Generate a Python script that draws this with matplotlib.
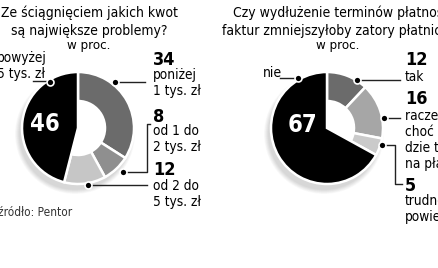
import matplotlib
matplotlib.use("Agg")
import matplotlib.pyplot as plt
from matplotlib.patches import Circle
from matplotlib import font_manager as fm

# czcionka waska (jak w oryginale)
names = {f.name for f in fm.fontManager.ttflist}
plt.rcParams['font.family'] = ['DejaVu Sans']
plt.rcParams['font.stretch'] = 'condensed'
if 'Liberation Sans Narrow' in names:
    plt.rcParams['font.family'] = ['Liberation Sans Narrow', 'DejaVu Sans']

# dane
left_values = [34, 8, 12, 46]
left_colors = ['#6b6b6b', '#8f8f8f', '#c6c6c6', '#000000']
right_values = [12, 16, 5, 67]
right_colors = ['#6b6b6b', '#a6a6a6', '#cacaca', '#000000']

W, H = 439, 268


def Y(y):
    # piksele od gory -> wspolrzedne osi
    return H - y


fig = plt.figure(figsize=(W / 100, H / 100), dpi=100)
ax = fig.add_axes([0, 0, 1, 1])


def donut(cx, cy, values, colors):
    # cien pod wykresem
    for i in range(8):
        ax.add_patch(Circle((cx - 3, Y(cy) - 6), 60 - i * 0.6, color='#000000',
                            alpha=0.018, lw=0, zorder=1))
    ax.add_patch(Circle((cx, Y(cy)), 30, color='white', lw=0, zorder=1.5))
    wedges, _ = ax.pie(values, colors=colors, startangle=90, counterclock=False,
                       center=(cx, Y(cy)), radius=56, frame=True,
                       wedgeprops=dict(edgecolor='white', linewidth=1.8))
    for w in wedges[:-1]:
        w.set_width(29)
    for w in wedges:
        w.set_zorder(2)
    return wedges


donut(78, 128, left_values, left_colors)
donut(327, 128, right_values, right_colors)


def dot(x, y):
    ax.plot(x, Y(y), 'o', ms=5, mfc='black', mec='white', mew=1.2, zorder=5)


def line(xs, ys):
    ax.plot(xs, [Y(v) for v in ys], color='#222222', lw=1.0, zorder=4)


# tytuly
ax.text(89, Y(13), 'Ze ściągnięciem jakich kwot', ha='center', va='center', fontsize=10)
ax.text(89, Y(31), 'są największe problemy?', ha='center', va='center', fontsize=10)
ax.text(89, Y(46), 'w proc.', ha='center', va='center', fontsize=9.5)
ax.text(233, Y(13), 'Czy wydłużenie terminów płatności', ha='left', va='center', fontsize=10)
ax.text(222, Y(31), 'faktur zmniejszyłoby zatory płatnicze?', ha='left', va='center', fontsize=10)
ax.text(338, Y(46), 'w proc.', ha='center', va='center', fontsize=9.5)

# wartosci w czarnych polach
ax.text(45, Y(124), str(left_values[3]), ha='center', va='center', fontsize=17,
        fontweight='bold', color='white', zorder=6)
ax.text(302, Y(125), str(right_values[3]), ha='center', va='center', fontsize=17,
        fontweight='bold', color='white', zorder=6)

num = dict(ha='left', va='center', fontsize=13, fontweight='bold')
lab = dict(ha='left', va='center', fontsize=9.8, linespacing=1.14)

# lewy wykres - opisy
ax.text(-3, Y(66), 'powyżej\n5 tys. zł', **lab)
line([33, 50], [81, 81])
dot(50, 82)

ax.text(153, Y(60), str(left_values[0]), **num)
ax.text(153, Y(83), 'poniżej\n1 tys. zł', **lab)
line([115, 145], [82, 82])
dot(115, 82)

ax.text(153, Y(117), str(left_values[1]), **num)
ax.text(153, Y(139), 'od 1 do\n2 tys. zł', **lab)
line([150, 147, 147, 123], [124, 124, 172, 172])
dot(123, 172)

ax.text(153, Y(170), str(left_values[2]), **num)
ax.text(153, Y(194), 'od 2 do\n5 tys. zł', **lab)
line([88, 147], [185, 185])
dot(88, 185)

ax.text(-2, Y(212), 'źródło: Pentor', ha='left', va='center', fontsize=8.5, color='#333333')

# prawy wykres - opisy
ax.text(263, Y(73), 'nie', ha='left', va='center', fontsize=10)
line([280, 298], [78, 78])
dot(298, 78)

ax.text(405, Y(60), str(right_values[0]), **num)
ax.text(405, Y(77), 'tak', **lab)
line([357, 400], [80, 80])
dot(357, 80)

ax.text(405, Y(99), str(right_values[1]), **num)
ax.text(405, Y(140), 'raczej tak,\nchoć nie bę-\ndzie to miało\nna płatności', **lab)
line([384, 400], [118, 118])
dot(384, 118)

ax.text(405, Y(186), str(right_values[2]), **num)
ax.text(405, Y(209), 'trudno\npowiedzieć', **lab)
line([382, 395, 395, 402], [145, 145, 184, 184])
dot(382, 145)

ax.set_xlim(0, W)
ax.set_ylim(0, H)
ax.set_aspect('auto')
ax.axis('off')

fig.savefig('out.png', dpi=100, facecolor='white')
